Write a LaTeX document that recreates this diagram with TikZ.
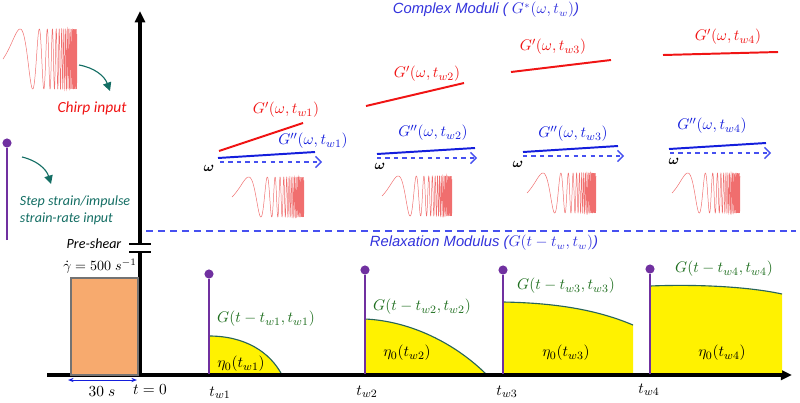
\documentclass[tikz,border=0pt]{standalone}
\usepackage{fontspec}
\usepackage{amsmath}
\usetikzlibrary{arrows.meta, positioning}
\newfontfamily\headfont{Liberation Sans}
\newfontfamily\notefont{Carlito}
\definecolor{gpred}{RGB}{240,20,20}
\definecolor{gppblue}{RGB}{20,30,220}
\definecolor{omegablue}{RGB}{70,80,240}
\definecolor{headblue}{RGB}{50,50,220}
\definecolor{relgreen}{RGB}{30,110,30}
\definecolor{stepteal}{RGB}{20,110,100}
\definecolor{imppurple}{RGB}{112,48,160}
\definecolor{preorange}{RGB}{247,170,110}
\definecolor{edgeteal}{RGB}{40,100,90}
\definecolor{chirpred}{RGB}{240,110,110}
\tikzset{
  axisline/.style={line width=2.6pt, black},
  axisarrow/.style={axisline, -{Triangle[length=8pt, width=7pt]}},
  breakline/.style={line width=1pt, black},
  gpline/.style={line width=1.4pt, gpred},
  gppline/.style={line width=1.4pt, gppblue},
  omegaarrow/.style={dashed, line width=0.9pt, omegablue, -{Straight Barb[length=4pt]}},
  chirpline/.style={line width=0.35pt, chirpred},
  mathfont/.style={font=\fontsize{11}{13}\selectfont},
  gplabel/.style={text=gpred, mathfont},
  gpplabel/.style={text=gppblue, mathfont},
  headlabel/.style={text=headblue, font=\fontsize{10.5}{12}\headfont\itshape},
  rellabel/.style={text=relgreen, mathfont},
  etalabel/.style={text=black, mathfont},
  impdot/.style={circle, fill=imppurple, inner sep=0pt, minimum size=6.5pt},
  impline/.style={line width=0.9pt, imppurple},
  relregion/.style={fill=yellow, draw=edgeteal, line width=0.8pt},
  tealarrow/.style={-{Triangle[length=6pt, width=6pt]}, line width=0.8pt, stepteal},
  notelabel/.style={font=\notefont\itshape},
}
% chirp signal: x0, width, ymid, amplitude
\newcommand{\chirpwave}[4]{%
  \draw[chirpline] plot[domain=0:1, samples=1500]
    ({#1+#2*\x},{#3-#4*sin(deg(0.7*(exp(5.1*\x)-1)))});
}

\begin{document}
\begin{tikzpicture}[x=0.025cm, y=-0.025cm]
  \useasboundingbox (0,0) rectangle (800,402);

  %% Legend
  \chirpwave{3}{74}{59}{30}
  \coordinate (chirpend) at (79,65);
  \coordinate (chirptip) at (110,91);
  \draw[tealarrow] (chirpend) to[bend left=30] (chirptip);
  \node[notelabel, text=gpred, font=\fontsize{11}{13}\notefont\itshape] (chirplbl) at (92,108) {Chirp input};

  \node[impdot] (legdot) at (7,143) {};
  \coordinate (legbase) at (7,240);
  \draw[impline] (legbase) -- (legdot);
  \coordinate (stepstart) at (22,157);
  \coordinate (steptip) at (51,184);
  \draw[tealarrow] (stepstart) to[bend left=30] (steptip);
  \node[notelabel, text=stepteal, align=left, anchor=west] (steplbl) at (15,210)
    {Step strain/impulse\\strain-rate input};

  %% Axes
  \coordinate (origin) at (140,375);
  \coordinate (xstart) at (47,375);
  \coordinate (xend) at (792,375);
  \coordinate (ylow) at (140,252);
  \coordinate (yhigh) at (140,244);
  \coordinate (ytop) at (140,11);
  \draw[axisline] (xstart) -- (origin);
  \draw[axisarrow] (origin) -- (xend);
  \draw[axisline] (origin) -- (ylow);
  \draw[axisarrow] (yhigh) -- (ytop);
  \draw[breakline] (129,244) -- (151,244);
  \draw[breakline] (129,252) -- (151,252);

  %% Separator
  \draw[line width=0.9pt, omegablue, dash pattern=on 5pt off 3.5pt] (146,231) -- (796,231);
  \node[headlabel] (cmhead) at (486,10) {Complex Moduli ( $G^{*}(\omega,t_w)$)};
  \node[headlabel] (rmhead) at (484,243) {Relaxation Modulus ($G(t-t_w,t_w)$)};

  %% Pre-shear
  \node[draw=black!55, line width=1pt, fill=preorange, minimum width=67*0.025cm,
        minimum height=97*0.025cm, inner sep=0pt] (preshear) at (104.5,326.5) {};
  \node[notelabel, inner sep=0.5pt] (prelbl) at (94,244) {Pre-shear};
  \node[font=\fontsize{10}{12}\selectfont, inner sep=0.5pt] (ratelbl) at (100,266) {$\dot{\gamma}=500\;s^{-1}$};
  \coordinate (spanl) at (68,380);
  \coordinate (spanr) at (137,380);
  \draw[{Stealth[length=4pt]}-{Stealth[length=4pt]}, line width=0.7pt, gppblue] (spanl) -- (spanr);
  \node[mathfont] (spanlbl) at (102,392) {$30\;s$};
  \node[mathfont] (t0lbl) at (150,390) {$t=0$};

  %% Complex moduli panels
  \draw[gpline] (219,151) -- (303,123);
  \node[gplabel] (gp1) at (286,110) {$G'(\omega,t_{w1})$};
  \draw[gppline] (218,158) -- (315,152);
  \node[gpplabel] (gpp1) at (313,141) {$G''(\omega,t_{w1})$};
  \draw[omegaarrow] (220,162) -- (322,162);
  \node (om1) at (209,168) {$\boldsymbol{\omega}$};
  \chirpwave{232}{72}{197}{20}

  \draw[gpline] (366,106) -- (464,83);
  \node[gplabel] (gp2) at (427,74) {$G'(\omega,t_{w2})$};
  \draw[gppline] (377,154) -- (475,148);
  \node[gpplabel] (gpp2) at (433,133) {$G''(\omega,t_{w2})$};
  \draw[omegaarrow] (377,158) -- (477,158);
  \node (om2) at (380,166) {$\boldsymbol{\omega}$};
  \chirpwave{382}{70}{196}{20}

  \draw[gpline] (511,72) -- (611,60);
  \node[gplabel] (gp3) at (553,47) {$G'(\omega,t_{w3})$};
  \draw[gppline] (523,152) -- (618,146);
  \node[gpplabel] (gpp3) at (573,134) {$G''(\omega,t_{w3})$};
  \draw[omegaarrow] (523,156) -- (624,156);
  \node (om3) at (518,164) {$\boldsymbol{\omega}$};
  \chirpwave{527}{69}{193}{20}

  \draw[gpline] (663,55) -- (778,52);
  \node[gplabel] (gp4) at (728,37) {$G'(\omega,t_{w4})$};
  \draw[gppline] (669,149) -- (766,143);
  \node[gpplabel] (gpp4) at (712,126) {$G''(\omega,t_{w4})$};
  \draw[omegaarrow] (670,153) -- (771,153);
  \node (om4) at (674,161) {$\boldsymbol{\omega}$};
  \chirpwave{672}{68}{193}{20}

  %% Relaxation regions
  \filldraw[relregion] (209,375) -- (209,336) .. controls (245,336) and (270,352) .. (282,375) -- cycle;
  \filldraw[relregion] (365,375) -- (365,319) .. controls (410,321) and (455,343) .. (487,375) -- cycle;
  \fill[yellow] (503,375) -- (503,302) .. controls (560,303) and (600,311) .. (633,325) -- (633,375) -- cycle;
  \draw[edgeteal, line width=0.8pt] (503,302) .. controls (560,303) and (600,311) .. (633,325);
  \fill[yellow] (650,375) -- (650,286) .. controls (700,284) and (750,287) .. (782,294) -- (782,375) -- cycle;
  \draw[edgeteal, line width=0.8pt] (650,286) .. controls (700,284) and (750,287) .. (782,294);
  \draw[axisline] (180,375) -- (785,375);

  %% Impulses
  \node[impdot] (imp1) at (209,274) {};
  \node[impdot] (imp2) at (365,270) {};
  \node[impdot] (imp3) at (503,270) {};
  \node[impdot] (imp4) at (650,269) {};
  \coordinate (tw1) at (209,374);
  \coordinate (tw2) at (365,374);
  \coordinate (tw3) at (503,374);
  \coordinate (tw4) at (650,374);
  \draw[impline] (tw1) -- (imp1);
  \draw[impline] (tw2) -- (imp2);
  \draw[impline] (tw3) -- (imp3);
  \draw[impline] (tw4) -- (imp4);

  \node[rellabel] (g1) at (266,319) {$G(t-t_{w1},t_{w1})$};
  \node[rellabel] (g2) at (422,307) {$G(t-t_{w2},t_{w2})$};
  \node[rellabel] (g3) at (566,286) {$G(t-t_{w3},t_{w3})$};
  \node[rellabel] (g4) at (724,269) {$G(t-t_{w4},t_{w4})$};
  \node[etalabel] (eta1) at (241,364) {$\eta_0(t_{w1})$};
  \node[etalabel] (eta2) at (407,353) {$\eta_0(t_{w2})$};
  \node[etalabel] (eta3) at (566,353) {$\eta_0(t_{w3})$};
  \node[etalabel] (eta4) at (722,353) {$\eta_0(t_{w4})$};

  \node[mathfont] (tw1lbl) at (220,393) {$t_{w1}$};
  \node[mathfont] (tw2lbl) at (367,392) {$t_{w2}$};
  \node[mathfont] (tw3lbl) at (507,392) {$t_{w3}$};
  \node[mathfont] (tw4lbl) at (649,390) {$t_{w4}$};

\end{tikzpicture}
\end{document}
